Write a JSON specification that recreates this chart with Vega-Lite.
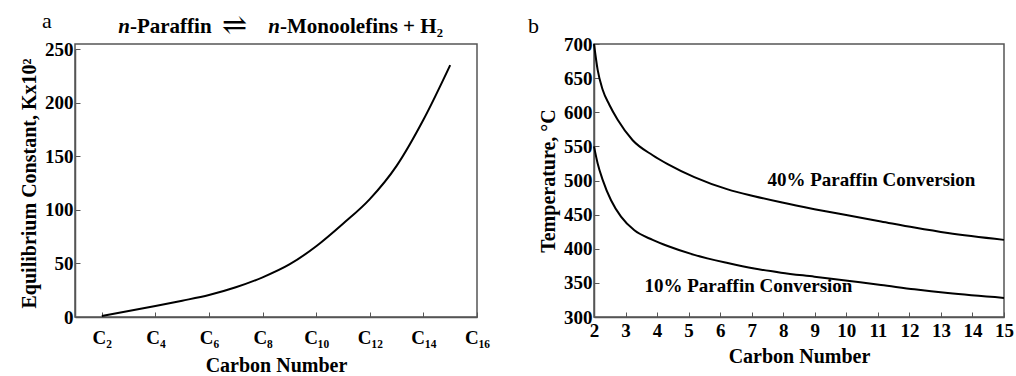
{
  "$schema": "https://vega.github.io/schema/vega-lite/v6.json",
  "padding": {"left": 18, "top": 9, "right": 5, "bottom": 0},
  "spacing": 36,
  "config": {
    "font": "Liberation Serif",
    "text": {"font": "Liberation Serif"},
    "view": {"stroke": "#555", "strokeWidth": 1.5},
    "axis": {
      "labelFont": "Liberation Serif", "labelFontWeight": "bold", "labelFontSize": 19, "labelColor": "#000",
      "titleFont": "Liberation Serif", "titleFontWeight": "bold", "titleFontSize": 20, "titleColor": "#000",
      "grid": false, "domainColor": "#555", "domainWidth": 1.5, "tickColor": "#555", "tickSize": -5, "tickWidth": 1,
      "labelOverlap": false, "labelFlush": false
    }
  },
  "hconcat": [
    {
      "width": 402, "height": 273,
      "layer": [
        {
          "data": {"values": [
            {"c": 2, "k": 1}, {"c": 3, "k": 5.6}, {"c": 4, "k": 10.3}, {"c": 5, "k": 15.2},
            {"c": 6, "k": 20.5}, {"c": 7, "k": 27.7}, {"c": 8, "k": 37}, {"c": 9, "k": 49},
            {"c": 10, "k": 66}, {"c": 11, "k": 87}, {"c": 12, "k": 110}, {"c": 13, "k": 141},
            {"c": 14, "k": 184}, {"c": 15, "k": 235}
          ]},
          "mark": {"type": "line", "color": "#000", "strokeWidth": 2, "interpolate": "monotone"},
          "encoding": {
            "x": {"field": "c", "type": "quantitative", "scale": {"domain": [1, 16], "nice": false, "zero": false},
              "axis": {"values": [2, 4, 6, 8, 10, 12, 14, 16], "labelOverlap": false, "labelFlush": false, "labelExpr": "['C₂','C₄','C₆','C₈','C₁₀','C₁₂','C₁₄','C₁₆'][datum.value/2-1]", "title": "Carbon Number", "labelPadding": 16, "titlePadding": 8}},
            "y": {"field": "k", "type": "quantitative", "scale": {"domain": [0, 250], "nice": false, "zero": false, "range": [273, 5]},
              "axis": {"values": [0, 50, 100, 150, 200, 250], "labelOverlap": false, "labelFlush": false, "title": "Equilibrium Constant, Kx10²", "labelPadding": 7, "titlePadding": 5}}
          }
        },
        {
          "data": {"values": [{"label": "a"}]},
          "mark": {"type": "text", "fontSize": 22, "align": "left", "baseline": "alphabetic", "color": "#000", "font": "Liberation Serif"},
          "encoding": {
            "x": {"datum": -0.23, "type": "quantitative", "scale": {"domain": [1, 16], "nice": false, "zero": false},
              "axis": {"values": [2, 4, 6, 8, 10, 12, 14, 16], "labelOverlap": false, "labelFlush": false, "labelExpr": "['C₂','C₄','C₆','C₈','C₁₀','C₁₂','C₁₄','C₁₆'][datum.value/2-1]", "title": "Carbon Number", "labelPadding": 16, "titlePadding": 8}},
            "y": {"datum": 269.3, "type": "quantitative", "scale": {"domain": [0, 250], "nice": false, "zero": false, "range": [273, 5]},
              "axis": {"values": [0, 50, 100, 150, 200, 250], "labelOverlap": false, "labelFlush": false, "title": "Equilibrium Constant, Kx10²", "labelPadding": 7, "titlePadding": 5}},
            "text": {"field": "label"}}
        },
        {
          "data": {"values": [{"label": "n"}]},
          "mark": {"type": "text", "font": "Liberation Serif", "fontSize": 21, "fontWeight": "bold", "fontStyle": "italic", "align": "right", "baseline": "alphabetic", "color": "#000"},
          "encoding": {
            "x": {"datum": 3.05, "type": "quantitative", "scale": {"domain": [1, 16], "nice": false, "zero": false},
              "axis": {"values": [2, 4, 6, 8, 10, 12, 14, 16], "labelOverlap": false, "labelFlush": false, "labelExpr": "['C₂','C₄','C₆','C₈','C₁₀','C₁₂','C₁₄','C₁₆'][datum.value/2-1]", "title": "Carbon Number", "labelPadding": 16, "titlePadding": 8}},
            "y": {"datum": 264.6, "type": "quantitative", "scale": {"domain": [0, 250], "nice": false, "zero": false, "range": [273, 5]},
              "axis": {"values": [0, 50, 100, 150, 200, 250], "labelOverlap": false, "labelFlush": false, "title": "Equilibrium Constant, Kx10²", "labelPadding": 7, "titlePadding": 5}},
            "text": {"field": "label"}}
        },
        {
          "data": {"values": [{"label": "-Paraffin"}]},
          "mark": {"type": "text", "font": "Liberation Serif", "fontSize": 21, "fontWeight": "bold", "align": "left", "baseline": "alphabetic", "color": "#000"},
          "encoding": {
            "x": {"datum": 3.05, "type": "quantitative", "scale": {"domain": [1, 16], "nice": false, "zero": false},
              "axis": {"values": [2, 4, 6, 8, 10, 12, 14, 16], "labelOverlap": false, "labelFlush": false, "labelExpr": "['C₂','C₄','C₆','C₈','C₁₀','C₁₂','C₁₄','C₁₆'][datum.value/2-1]", "title": "Carbon Number", "labelPadding": 16, "titlePadding": 8}},
            "y": {"datum": 264.6, "type": "quantitative", "scale": {"domain": [0, 250], "nice": false, "zero": false, "range": [273, 5]},
              "axis": {"values": [0, 50, 100, 150, 200, 250], "labelOverlap": false, "labelFlush": false, "title": "Equilibrium Constant, Kx10²", "labelPadding": 7, "titlePadding": 5}},
            "text": {"field": "label"}}
        },
        {
          "data": {"values": [{"label": "⇌"}]},
          "mark": {"type": "text", "font": "DejaVu Serif", "fontSize": 30, "align": "center", "baseline": "alphabetic", "color": "#000"},
          "encoding": {
            "x": {"datum": 6.95, "type": "quantitative", "scale": {"domain": [1, 16], "nice": false, "zero": false},
              "axis": {"values": [2, 4, 6, 8, 10, 12, 14, 16], "labelOverlap": false, "labelFlush": false, "labelExpr": "['C₂','C₄','C₆','C₈','C₁₀','C₁₂','C₁₄','C₁₆'][datum.value/2-1]", "title": "Carbon Number", "labelPadding": 16, "titlePadding": 8}},
            "y": {"datum": 263.5, "type": "quantitative", "scale": {"domain": [0, 250], "nice": false, "zero": false, "range": [273, 5]},
              "axis": {"values": [0, 50, 100, 150, 200, 250], "labelOverlap": false, "labelFlush": false, "title": "Equilibrium Constant, Kx10²", "labelPadding": 7, "titlePadding": 5}},
            "text": {"field": "label"}}
        },
        {
          "data": {"values": [{"label": "n"}]},
          "mark": {"type": "text", "font": "Liberation Serif", "fontSize": 21, "fontWeight": "bold", "fontStyle": "italic", "align": "right", "baseline": "alphabetic", "color": "#000"},
          "encoding": {
            "x": {"datum": 8.65, "type": "quantitative", "scale": {"domain": [1, 16], "nice": false, "zero": false},
              "axis": {"values": [2, 4, 6, 8, 10, 12, 14, 16], "labelOverlap": false, "labelFlush": false, "labelExpr": "['C₂','C₄','C₆','C₈','C₁₀','C₁₂','C₁₄','C₁₆'][datum.value/2-1]", "title": "Carbon Number", "labelPadding": 16, "titlePadding": 8}},
            "y": {"datum": 264.6, "type": "quantitative", "scale": {"domain": [0, 250], "nice": false, "zero": false, "range": [273, 5]},
              "axis": {"values": [0, 50, 100, 150, 200, 250], "labelOverlap": false, "labelFlush": false, "title": "Equilibrium Constant, Kx10²", "labelPadding": 7, "titlePadding": 5}},
            "text": {"field": "label"}}
        },
        {
          "data": {"values": [{"label": "-Monoolefins  +  H₂"}]},
          "mark": {"type": "text", "font": "Liberation Serif", "fontSize": 21, "fontWeight": "bold", "align": "left", "baseline": "alphabetic", "color": "#000"},
          "encoding": {
            "x": {"datum": 8.65, "type": "quantitative", "scale": {"domain": [1, 16], "nice": false, "zero": false},
              "axis": {"values": [2, 4, 6, 8, 10, 12, 14, 16], "labelOverlap": false, "labelFlush": false, "labelExpr": "['C₂','C₄','C₆','C₈','C₁₀','C₁₂','C₁₄','C₁₆'][datum.value/2-1]", "title": "Carbon Number", "labelPadding": 16, "titlePadding": 8}},
            "y": {"datum": 264.6, "type": "quantitative", "scale": {"domain": [0, 250], "nice": false, "zero": false, "range": [273, 5]},
              "axis": {"values": [0, 50, 100, 150, 200, 250], "labelOverlap": false, "labelFlush": false, "title": "Equilibrium Constant, Kx10²", "labelPadding": 7, "titlePadding": 5}},
            "text": {"field": "label"}}
        }
      ]
    },
    {
      "width": 410, "height": 273,
      "layer": [
        {
          "data": {"values": [
            {"series": "40%", "n": 2.0, "t": 700}, {"series": "40%", "n": 2.116, "t": 662}, {"series": "40%", "n": 2.275, "t": 633},
            {"series": "40%", "n": 2.486, "t": 611}, {"series": "40%", "n": 2.75, "t": 589}, {"series": "40%", "n": 3.226, "t": 559},
            {"series": "40%", "n": 3.86, "t": 537}, {"series": "40%", "n": 4.336, "t": 524}, {"series": "40%", "n": 5.18, "t": 505},
            {"series": "40%", "n": 6.24, "t": 487}, {"series": "40%", "n": 7.08, "t": 477}, {"series": "40%", "n": 7.93, "t": 468},
            {"series": "40%", "n": 8.99, "t": 458}, {"series": "40%", "n": 10.04, "t": 449}, {"series": "40%", "n": 11.1, "t": 440},
            {"series": "40%", "n": 12.16, "t": 431}, {"series": "40%", "n": 13.22, "t": 423}, {"series": "40%", "n": 15.0, "t": 413},
            {"series": "10%", "n": 2.0, "t": 550}, {"series": "10%", "n": 2.116, "t": 525}, {"series": "10%", "n": 2.275, "t": 501},
            {"series": "10%", "n": 2.54, "t": 471}, {"series": "10%", "n": 2.856, "t": 447}, {"series": "10%", "n": 3.28, "t": 427},
            {"series": "10%", "n": 3.86, "t": 413}, {"series": "10%", "n": 4.336, "t": 404}, {"series": "10%", "n": 5.18, "t": 391},
            {"series": "10%", "n": 6.24, "t": 379}, {"series": "10%", "n": 7.08, "t": 371}, {"series": "10%", "n": 7.93, "t": 365},
            {"series": "10%", "n": 8.99, "t": 359}, {"series": "10%", "n": 10.04, "t": 353}, {"series": "10%", "n": 11.1, "t": 347},
            {"series": "10%", "n": 12.16, "t": 340.5}, {"series": "10%", "n": 13.22, "t": 335}, {"series": "10%", "n": 15.0, "t": 328}
          ]},
          "mark": {"type": "line", "color": "#000", "strokeWidth": 2, "interpolate": "monotone"},
          "encoding": {
            "x": {"field": "n", "type": "quantitative", "scale": {"domain": [2, 15], "nice": false, "zero": false},
              "axis": {"values": [2, 3, 4, 5, 6, 7, 8, 9, 10, 11, 12, 13, 14, 15], "labelOverlap": false, "labelFlush": false, "title": "Carbon Number", "labelPadding": 9, "titlePadding": 6}},
            "y": {"field": "t", "type": "quantitative", "scale": {"domain": [300, 700], "nice": false, "zero": false},
              "axis": {"values": [300, 350, 400, 450, 500, 550, 600, 650, 700], "labelOverlap": false, "labelFlush": false, "title": "Temperature, °C", "labelPadding": 7, "titlePadding": 5}},
            "detail": {"field": "series"}
          }
        },
        {
          "data": {"values": [{"label": "40% Paraffin Conversion"}]},
          "mark": {"type": "text", "font": "Liberation Serif", "fontSize": 19, "fontWeight": "bold", "align": "left", "baseline": "alphabetic", "color": "#000"},
          "encoding": {
            "x": {"datum": 7.5, "type": "quantitative", "scale": {"domain": [2, 15], "nice": false, "zero": false},
              "axis": {"values": [2, 3, 4, 5, 6, 7, 8, 9, 10, 11, 12, 13, 14, 15], "labelOverlap": false, "labelFlush": false, "title": "Carbon Number", "labelPadding": 9, "titlePadding": 6}},
            "y": {"datum": 491.9, "type": "quantitative", "scale": {"domain": [300, 700], "nice": false, "zero": false},
              "axis": {"values": [300, 350, 400, 450, 500, 550, 600, 650, 700], "labelOverlap": false, "labelFlush": false, "title": "Temperature, °C", "labelPadding": 7, "titlePadding": 5}},
            "text": {"field": "label"}}
        },
        {
          "data": {"values": [{"label": "10% Paraffin Conversion"}]},
          "mark": {"type": "text", "font": "Liberation Serif", "fontSize": 19, "fontWeight": "bold", "align": "left", "baseline": "alphabetic", "color": "#000"},
          "encoding": {
            "x": {"datum": 3.6, "type": "quantitative", "scale": {"domain": [2, 15], "nice": false, "zero": false},
              "axis": {"values": [2, 3, 4, 5, 6, 7, 8, 9, 10, 11, 12, 13, 14, 15], "labelOverlap": false, "labelFlush": false, "title": "Carbon Number", "labelPadding": 9, "titlePadding": 6}},
            "y": {"datum": 337, "type": "quantitative", "scale": {"domain": [300, 700], "nice": false, "zero": false},
              "axis": {"values": [300, 350, 400, 450, 500, 550, 600, 650, 700], "labelOverlap": false, "labelFlush": false, "title": "Temperature, °C", "labelPadding": 7, "titlePadding": 5}},
            "text": {"field": "label"}}
        },
        {
          "data": {"values": [{"label": "b"}]},
          "mark": {"type": "text", "fontSize": 22, "align": "left", "baseline": "alphabetic", "color": "#000", "font": "Liberation Serif"},
          "encoding": {
            "x": {"datum": -0.09, "type": "quantitative", "scale": {"domain": [2, 15], "nice": false, "zero": false},
              "axis": {"values": [2, 3, 4, 5, 6, 7, 8, 9, 10, 11, 12, 13, 14, 15], "labelOverlap": false, "labelFlush": false, "title": "Carbon Number", "labelPadding": 9, "titlePadding": 6}},
            "y": {"datum": 716, "type": "quantitative", "scale": {"domain": [300, 700], "nice": false, "zero": false},
              "axis": {"values": [300, 350, 400, 450, 500, 550, 600, 650, 700], "labelOverlap": false, "labelFlush": false, "title": "Temperature, °C", "labelPadding": 7, "titlePadding": 5}},
            "text": {"field": "label"}}
        }
      ]
    }
  ]
}
